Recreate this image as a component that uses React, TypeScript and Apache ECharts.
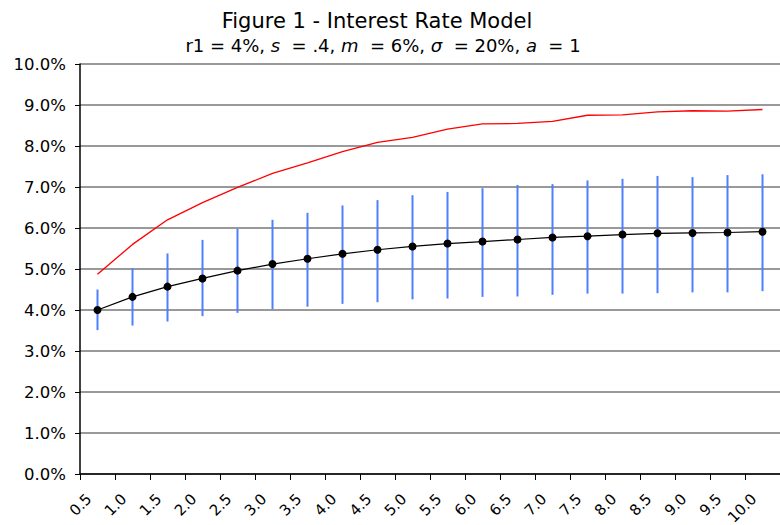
import React, { useEffect, useRef } from "react";
import * as echarts from "echarts";

const categories = ["0.5","1.0","1.5","2.0","2.5","3.0","3.5","4.0","4.5","5.0","5.5","6.0","6.5","7.0","7.5","8.0","8.5","9.0","9.5","10.0"];
const meanRate = [4.00,4.32,4.57,4.77,4.96,5.12,5.25,5.37,5.47,5.55,5.62,5.67,5.72,5.77,5.80,5.84,5.87,5.88,5.89,5.91];
const lowRate = [3.51,3.62,3.72,3.85,3.93,4.02,4.08,4.15,4.19,4.26,4.28,4.32,4.33,4.37,4.40,4.40,4.41,4.43,4.43,4.46];
const highRate = [4.50,5.02,5.38,5.71,5.98,6.20,6.37,6.55,6.68,6.80,6.88,6.97,7.05,7.07,7.16,7.20,7.27,7.24,7.29,7.31];
const upperRate = [4.87,5.60,6.20,6.62,6.99,7.33,7.59,7.86,8.09,8.21,8.41,8.54,8.55,8.60,8.75,8.76,8.83,8.86,8.85,8.89];

const FONT = '"DejaVu Sans", Verdana, sans-serif';

export default function App() {
  const ref = useRef<HTMLDivElement>(null);
  useEffect(() => {
    document.body.style.margin = "0";
    const chart = echarts.init(ref.current!, null, { renderer: "svg" });
    chart.setOption({
      animation: false,
      backgroundColor: "#fff",
      textStyle: { fontFamily: FONT },
      grid: { left: 80, right: 0, top: 64, bottom: 51, containLabel: false, outerBoundsMode: "none" },
      graphic: [
        {
          type: "text",
          x: 377,
          y: 21,
          style: {
            text: "Figure 1 - Interest Rate Model",
            font: `21px ${FONT}`,
            fill: "#000",
            textAlign: "center",
            textVerticalAlign: "middle",
          },
        },
        {
          type: "text",
          x: 383,
          y: 45,
          style: {
            text: "{n|r1 = 4%, }{i|s}{n|  = .4, }{i|m}{n|  = 6%, }{i|σ}{n|  = 20%, }{i|a}{n|  = 1}",
            fill: "#000",
            textAlign: "center",
            textVerticalAlign: "middle",
            rich: {
              n: { fontFamily: FONT, fontSize: 18, fill: "#000", lineHeight: 20 },
              i: { fontFamily: FONT, fontSize: 18, fontStyle: "italic", fill: "#000", lineHeight: 20 },
            },
          },
        },
      ],
      xAxis: {
        type: "category",
        data: categories,
        boundaryGap: true,
        axisLine: { lineStyle: { color: "#000", width: 1.5 } },
        axisTick: { show: true, length: 6, lineStyle: { color: "#000" }, alignWithLabel: false },
        axisLabel: {
          rotate: 45,
          interval: 0,
          margin: 14,
          padding: [0, 12, 0, 0],
          fontSize: 15,
          fontFamily: FONT,
          color: "#000",
        },
        splitLine: { show: false },
      },
      yAxis: {
        type: "value",
        min: 0,
        max: 10,
        interval: 1,
        axisLine: { show: true, lineStyle: { color: "#000", width: 1.5 } },
        axisTick: { show: true, length: 5, lineStyle: { color: "#000" } },
        axisLabel: {
          formatter: (v: number) => `${v.toFixed(1)}%`,
          fontSize: 16.5,
          fontFamily: FONT,
          color: "#000",
          margin: 14,
        },
        splitLine: { show: true, lineStyle: { color: "#777", width: 1.5 } },
      },
      series: [
        {
          type: "custom",
          name: "range",
          data: categories.map((_, i) => [i, lowRate[i], highRate[i]]),
          renderItem: (params: any, api: any) => {
            const x = api.value(0);
            const lo = api.coord([x, api.value(1)]);
            const hi = api.coord([x, api.value(2)]);
            return {
              type: "line",
              shape: { x1: lo[0], y1: lo[1], x2: hi[0], y2: hi[1] },
              style: { stroke: "#4d7fff", lineWidth: 2 },
            };
          },
          z: 2,
        },
        {
          type: "line",
          name: "upper",
          data: upperRate,
          symbol: "none",
          lineStyle: { color: "#ff0000", width: 1.3 },
          z: 3,
        },
        {
          type: "line",
          name: "mean",
          data: meanRate,
          symbol: "circle",
          symbolSize: 8,
          itemStyle: { color: "#000" },
          lineStyle: { color: "#000", width: 1.2 },
          z: 4,
        },
      ],
    });
    return () => chart.dispose();
  }, []);
  return <div ref={ref} style={{ width: 780, height: 525 }} />;
}
